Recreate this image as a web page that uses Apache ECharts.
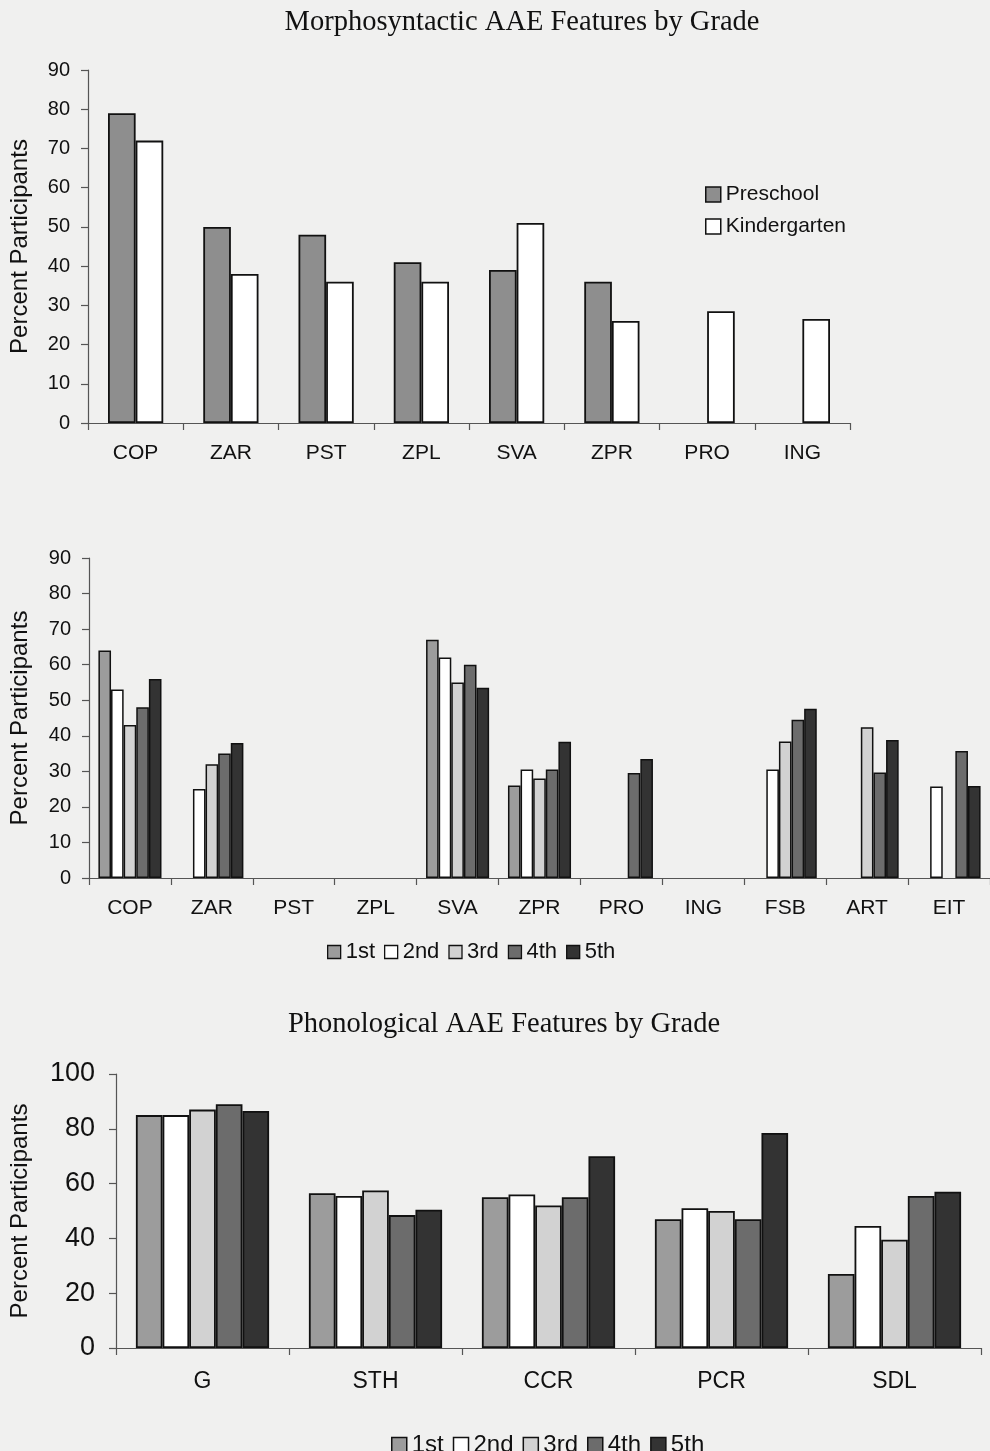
<!DOCTYPE html>
<html>
<head>
<meta charset="utf-8">
<script src="https://cdn.jsdelivr.net/npm/echarts@6/dist/echarts.min.js"></script>
<style>
html,body{margin:0;padding:0;background:#f0f0ef;}
#c{width:990px;height:1451px;}
</style>
</head>
<body>
<div id="c"></div>
<script>
// ---- Data ----
var morphTitle = 'Morphosyntactic AAE Features by Grade';
var phonTitle = 'Phonological AAE Features by Grade';
var yName = 'Percent Participants';

var morphCats = ['COP','ZAR','PST','ZPL','SVA','ZPR','PRO','ING'];
var preschool = [79, 50, 48, 41, 39, 36, null, null];
var kindergarten = [72, 38, 36, 36, 51, 26, 28.5, 26.5];

var gradeCats = ['COP','ZAR','PST','ZPL','SVA','ZPR','PRO','ING','FSB','ART','EIT'];
var g1st = [64, null, null, null, 67, 26, null, null, null, null, null];
var g2nd = [53, 25, null, null, 62, 30.5, null, null, 30.5, null, 25.7];
var g3rd = [43, 32, null, null, 55, 28, null, null, 38.4, 42.4, null];
var g4th = [48, 35, null, null, 60, 30.5, 29.5, null, 44.5, 29.7, 35.7];
var g5th = [56, 38, null, null, 53.5, 38.3, 33.5, null, 47.6, 38.8, 25.9];

var phonCats = ['G','STH','CCR','PCR','SDL'];
var p1st = [85, 56.5, 55, 47, 27];
var p2nd = [85, 55.5, 56, 51, 44.5];
var p3rd = [87, 57.5, 52, 50, 39.5];
var p4th = [89, 48.5, 55, 47, 55.5];
var p5th = [86.5, 50.5, 70, 78.5, 57];

var gradeNames = ['1st','2nd','3rd','4th','5th'];

// ---- Styles ----
var SANS = "'Liberation Sans', Arial, sans-serif";
var SERIF = "'Liberation Serif', 'Times New Roman', serif";
var colPre = '#8e8e8e';
var colK = '#ffffff';
var gradeColors = ['#9c9c9c', '#ffffff', '#d2d2d2', '#6c6c6c', '#333333'];
var axisCol = '#555555';

var chart = echarts.init(document.getElementById('c'), null, {renderer:'canvas'});

function xAxis(grid, cats, fs, margin) {
  return {
    type: 'category', gridIndex: grid, data: cats,
    axisLine: {show: true, lineStyle: {color: axisCol, width: 1.2}},
    axisTick: {show: true, length: 7, lineStyle: {color: axisCol, width: 1.2}},
    axisLabel: {color: '#111', fontFamily: SANS, fontSize: fs, margin: margin},
    splitLine: {show: false}
  };
}
function yAxis(grid, max, interval, fs, margin, nameFs, nameGap) {
  return {
    type: 'value', gridIndex: grid, min: 0, max: max, interval: interval,
    name: yName, nameLocation: 'middle', nameRotate: 90, nameGap: nameGap,
    nameTextStyle: {color: '#111', fontFamily: SANS, fontSize: nameFs},
    axisLine: {show: true, lineStyle: {color: axisCol, width: 1.2}},
    axisTick: {show: true, length: 7, lineStyle: {color: axisCol, width: 1.2}},
    axisLabel: {color: '#111', fontFamily: SANS, fontSize: fs, margin: margin},
    splitLine: {show: false}
  };
}
function bar(name, data, color, xi, yi, gap, bw) {
  return {
    type: 'bar', name: name, data: data, xAxisIndex: xi, yAxisIndex: yi,
    barGap: '0%', barCategoryGap: gap,
    itemStyle: {color: color, borderColor: '#111', borderWidth: bw},
    emphasis: {disabled: true},
    animation: false
  };
}

var series = [];
series.push(bar('Preschool', preschool, colPre, 0, 0, '42%', 1.8));
series.push(bar('Kindergarten', kindergarten, colK, 0, 0, '42%', 1.8));
var gData = [g1st, g2nd, g3rd, g4th, g5th];
var pData = [p1st, p2nd, p3rd, p4th, p5th];
for (var i = 0; i < 5; i++) {
  series.push(bar(gradeNames[i], gData[i], gradeColors[i], 1, 1, '23%', 1.5));
}
for (var j = 0; j < 5; j++) {
  series.push(bar(gradeNames[j], pData[j], gradeColors[j], 2, 2, '23%', 1.8));
}

var option = {
  backgroundColor: '#f0f0ef',
  animation: false,
  title: [
    {text: morphTitle, left: 517, top: 3, textAlign: 'center',
     textStyle: {fontFamily: SERIF, fontWeight: 'normal', fontSize: 28.5, color: '#111'}},
    {text: phonTitle, left: 499, top: 1005, textAlign: 'center',
     textStyle: {fontFamily: SERIF, fontWeight: 'normal', fontSize: 28.5, color: '#111'}}
  ],
  legend: [
    {data: ['Preschool','Kindergarten'], orient: 'vertical', left: 700, top: 179,
     icon: 'rect', itemWidth: 15, itemHeight: 15, itemGap: 11,
     textStyle: {fontFamily: SANS, fontSize: 21, color: '#111'},
     itemStyle: {borderColor: '#111', borderWidth: 1.5}, selectedMode: false},
    {data: gradeNames, orient: 'horizontal', left: 322, top: 936,
     icon: 'rect', itemWidth: 13, itemHeight: 13, itemGap: 9,
     textStyle: {fontFamily: SANS, fontSize: 22, color: '#111'},
     itemStyle: {borderColor: '#111', borderWidth: 1.3}, selectedMode: false},
    {data: gradeNames, orient: 'horizontal', left: 386, top: 1428,
     icon: 'rect', itemWidth: 15, itemHeight: 15, itemGap: 9,
     textStyle: {fontFamily: SANS, fontSize: 24, color: '#111'},
     itemStyle: {borderColor: '#111', borderWidth: 1.5}, selectedMode: false}
  ],
  grid: [
    {left: 85, top: 70, width: 765, height: 353},
    {left: 86, top: 558, width: 910, height: 320},
    {left: 116, top: 1074, width: 865, height: 274}
  ],
  xAxis: [
    xAxis(0, morphCats, 21, 20),
    xAxis(1, gradeCats, 21, 20),
    xAxis(2, phonCats, 23, 22)
  ],
  yAxis: [
    yAxis(0, 90, 10, 20, 18, 24, 56),
    yAxis(1, 90, 10, 20, 18, 24, 57),
    yAxis(2, 100, 20, 27, 21, 24, 84)
  ],
  series: series
};
chart.setOption(option);
</script>
</body>
</html>
